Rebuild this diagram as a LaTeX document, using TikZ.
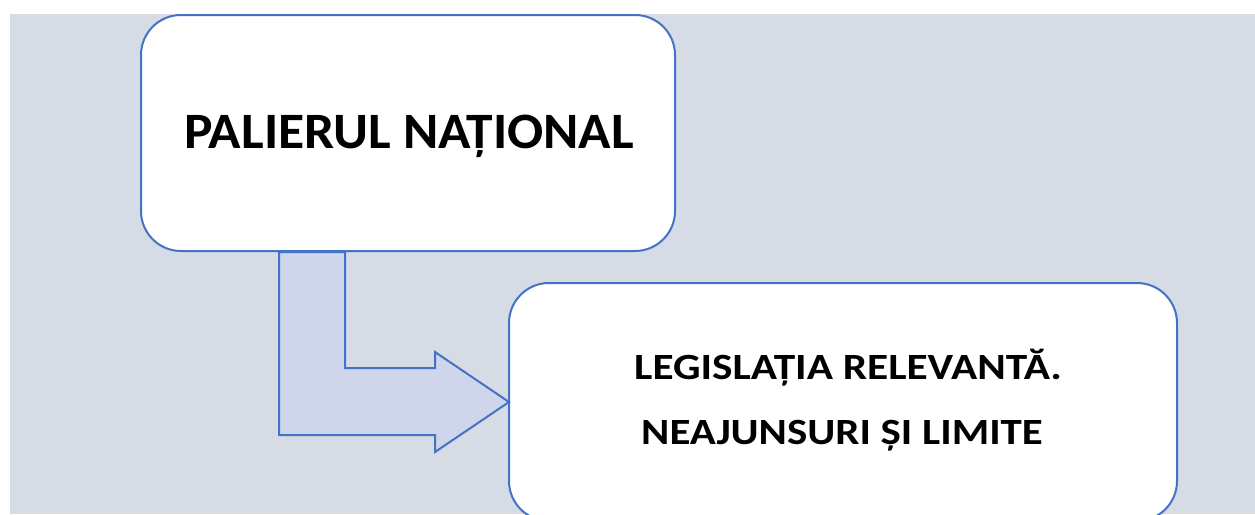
\documentclass[tikz,border=0pt]{standalone}
\usepackage{graphicx}
\usepackage{fontspec}
\setmainfont{Carlito}
\definecolor{bgc}{HTML}{D6DCE5}
\definecolor{edgec}{HTML}{4472C4}
\definecolor{arrowc}{HTML}{CFD5EA}
\begin{document}
\begin{tikzpicture}[x=1pt,y=-1pt,
  boxstyle/.style={draw=edgec, fill=white, line width=2pt, rounded corners=40pt, inner sep=0pt, outer sep=0pt},
  arrowstyle/.style={draw=edgec, fill=arrowc, line width=2pt, line join=miter},
  labelstyle/.style={text=black, inner sep=0pt, anchor=base}]
\useasboundingbox (0,0) rectangle (1255,514);
\clip (0,0) rectangle (1255,514);
\fill[white] (0,0) rectangle (1255,514);
\fill[bgc] (10,14) rectangle (1255,514);
\node[boxstyle, minimum width=534pt, minimum height=236pt] (top) at (408,133) {};
\node[boxstyle, minimum width=668pt, minimum height=238pt] (bottom) at (843,402) {};
\draw[arrowstyle] (279,252) -- (345,252) -- (345,368) -- (435,368) -- (435,352)
  -- (bottom.west) -- (435,452) -- (435,435) -- (279,435) -- cycle;
\node[labelstyle, font=\fontsize{51}{60}\selectfont\bfseries] (t1) at (409,148.3) {\scalebox{1.05}[1]{PALIERUL NAȚIONAL}};
\node[labelstyle, font=\fontsize{37}{44}\selectfont\bfseries] (t2) at (848,379.3) {\scalebox{1.17}[1]{LEGISLAȚIA RELEVANTĂ.}};
\node[labelstyle, font=\fontsize{37}{44}\selectfont\bfseries] (t3) at (842,444.3) {\scalebox{1.16}[1]{NEAJUNSURI ȘI LIMITE}};
\end{tikzpicture}
\end{document}
